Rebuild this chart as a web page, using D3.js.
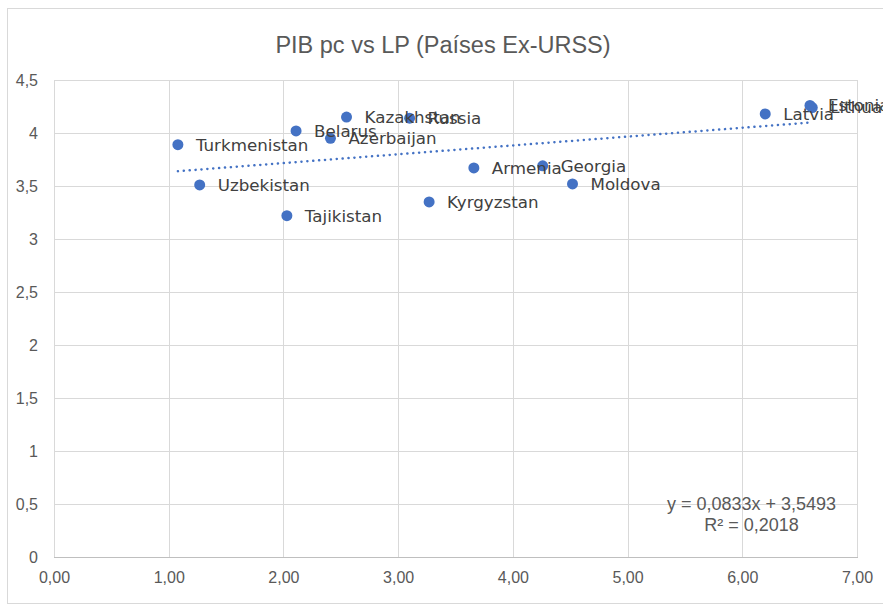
<!DOCTYPE html>
<html>
<head>
<meta charset="utf-8">
<script src="https://cdn.jsdelivr.net/npm/d3@7"></script>
<style>
  html, body { margin: 0; padding: 0; background: #fff; }
  #chart { width: 883px; height: 606px; }
</style>
</head>
<body>
<div id="chart"></div>
<script>
// data
const countries = ["Turkmenistan","Uzbekistan","Tajikistan","Belarus","Azerbaijan","Kazakhstan","Russia",
  "Kyrgyzstan","Armenia","Georgia","Moldova","Latvia","Lithuania","Estonia"];
const pibPc = [1.08, 1.27, 2.03, 2.11, 2.41, 2.55, 3.10, 3.27, 3.66, 4.26, 4.52, 6.20, 6.61, 6.59];
const lp    = [3.89, 3.51, 3.22, 4.02, 3.95, 4.15, 4.14, 3.35, 3.67, 3.69, 3.52, 4.18, 4.24, 4.26];
const xTicks = [0, 1, 2, 3, 4, 5, 6, 7];
const yTicks = [0, 0.5, 1, 1.5, 2, 2.5, 3, 3.5, 4, 4.5];
const trendSlope = 0.0833;
const trendIntercept = 3.5493;
const trendR2 = 0.2018;

(() => {
  const W = 883, H = 606;
  const margin = { top: 80, right: 26, bottom: 49, left: 54 };
  const w = W - margin.left - margin.right;
  const h = H - margin.top - margin.bottom;

  const TEXT = "#595959";
  const GRID = "#d9d9d9";
  const BLUE = "#4472c4";
  const FONT = "'Liberation Sans', Arial, sans-serif";

  const data = countries.map((c, i) => ({ name: c, x: pibPc[i], y: lp[i] }));

  const svg = d3.select("#chart").append("svg")
    .attr("width", W).attr("height", H)
    .style("font-family", FONT);

  // chart area frame (cut off at right / bottom like the reference)
  svg.append("rect")
    .attr("x", 7.5).attr("y", 8.5)
    .attr("width", W + 10).attr("height", 595)
    .attr("fill", "#fff").attr("stroke", GRID);

  svg.append("text")
    .attr("x", 443).attr("y", 53)
    .attr("text-anchor", "middle")
    .attr("fill", TEXT)
    .style("font-size", "23.5px")
    .text("PIB pc vs LP (Países Ex-URSS)");

  const g = svg.append("g").attr("transform", `translate(${margin.left},${margin.top})`);

  const x = d3.scaleLinear().domain([0, 7]).range([0, w]);
  const y = d3.scaleLinear().domain([0, 4.5]).range([h, 0]);

  const fmtX = d => d.toFixed(2).replace(".", ",");
  const fmtY = d => String(d).replace(".", ",");

  // grid
  g.append("g")
    .call(d3.axisLeft(y).tickValues(yTicks).tickSize(-w).tickFormat(fmtY).tickPadding(16))
    .call(a => a.select(".domain").remove())
    .call(a => a.selectAll("line").attr("stroke", GRID).attr("shape-rendering", "crispEdges"))
    .call(a => a.selectAll("text").attr("fill", TEXT).style("font-size", "16px").style("font-family", FONT));

  g.append("g")
    .attr("transform", `translate(0,${h})`)
    .call(d3.axisBottom(x).tickValues(xTicks).tickSize(-h).tickFormat(fmtX).tickPadding(15))
    .call(a => a.select(".domain").attr("stroke", "#bfbfbf").attr("shape-rendering", "crispEdges"))
    .call(a => a.selectAll("line").attr("stroke", GRID).attr("shape-rendering", "crispEdges"))
    .call(a => a.selectAll("text").attr("fill", TEXT).style("font-size", "16px").style("font-family", FONT));

  // linear trendline over the data range
  const xr = d3.extent(data, d => d.x);
  const trend = xr.map(v => ({ x: v, y: trendSlope * v + trendIntercept }));
  g.append("path")
    .datum(trend)
    .attr("fill", "none")
    .attr("stroke", BLUE)
    .attr("stroke-width", 2.5)
    .attr("stroke-linecap", "round")
    .attr("stroke-dasharray", "0.1,5.8")
    .attr("d", d3.line().x(d => x(d.x)).y(d => y(d.y)));

  g.selectAll("circle.pt")
    .data(data)
    .enter()
    .append("circle")
    .attr("class", "pt")
    .attr("cx", d => x(d.x))
    .attr("cy", d => y(d.y))
    .attr("r", 5.5)
    .attr("fill", BLUE);

  g.selectAll("text.label")
    .data(data)
    .enter()
    .append("text")
    .attr("class", "label")
    .attr("x", d => x(d.x) + 18)
    .attr("y", d => y(d.y))
    .attr("dy", "0.35em")
    .attr("fill", "#404040")
    .style("font-family", "'DejaVu Sans', sans-serif")
    .style("font-size", "16.7px")
    .text(d => d.name);

  // trendline equation
  const fmtC = (v, n) => v.toFixed(n).replace(".", ",");
  const eq = g.append("text")
    .attr("text-anchor", "middle")
    .attr("fill", TEXT)
    .style("font-size", "18px");
  eq.append("tspan")
    .attr("x", x(6.08)).attr("y", y(0.5) + 6)
    .text(`y = ${fmtC(trendSlope, 4)}x + ${fmtC(trendIntercept, 4)}`);
  eq.append("tspan")
    .attr("x", x(6.08)).attr("y", y(0.5) + 27)
    .text(`R² = ${fmtC(trendR2, 4)}`);
})();
</script>
</body>
</html>
